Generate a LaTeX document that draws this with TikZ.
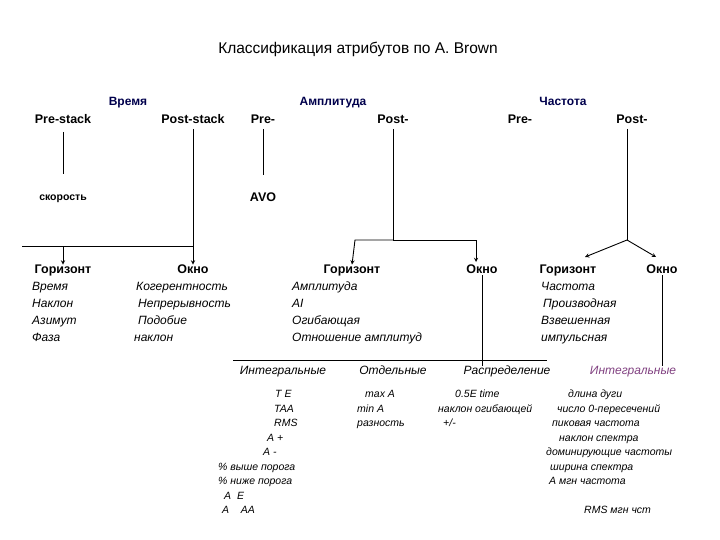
\documentclass[tikz,border=0pt]{standalone}
\usepackage{fontspec}
\setmainfont{Liberation Sans}
\begin{document}
\begin{tikzpicture}[x=1pt,y=-1pt,
 every node/.style={text height=1.6ex, text depth=0.4ex},
 head/.style={font=\fontsize{12}{14}\selectfont\bfseries, text=blue!30!black, inner sep=0},
 top/.style={font=\fontsize{12.5}{14}\selectfont\bfseries, inner sep=0},
 it/.style={font=\fontsize{12}{14}\selectfont\itshape, inner sep=0, anchor=west},
 sm/.style={font=\fontsize{10.5}{12}\selectfont\itshape, inner sep=0, anchor=west},
 cat/.style={font=\fontsize{12}{14}\selectfont\itshape, inner sep=0},
 ln/.style={line width=0.9pt},
 arr/.style={line width=0.9pt,-stealth}]
\useasboundingbox (0,0) rectangle (720,540);
\node[font=\fontsize{15.5}{18}\selectfont] (title) at (358,50) {Классификация атрибутов по A. Brown};
\node[head] (t1) at (128,102) {Время};
\node[head] (t2) at (333,102) {Амплитуда};
\node[head] (t3) at (563,102) {Частота};
\node[top] (p1) at (63,120) {Pre-stack};
\node[top] (p2) at (193,120) {Post-stack};
\node[top] (p3) at (263,120) {Pre-};
\node[top] (p4) at (393,120) {Post-};
\node[top] (p5) at (520,120) {Pre-};
\node[top] (p6) at (632,120) {Post-};
\node[font=\fontsize{10.5}{12}\selectfont\bfseries,inner sep=0] (sk) at (63,197) {скорость};
\node[top] (avo) at (263,198) {AVO};
\coordinate (e1) at (63,174);
\coordinate (e3) at (263,175);
\draw[ln] (63,132) -- (e1);
\draw[ln] (263,129) -- (e3);
\node[top] (g1) at (63,270) {Горизонт};
\node[top] (o1) at (193,270) {Окно};
\node[top] (g2) at (352,270) {Горизонт};
\node[top] (o2) at (482,270) {Окно};
\node[top] (g3) at (568,270) {Горизонт};
\node[top] (o3) at (662,270) {Окно};
\coordinate (h1) at (193,246); \coordinate (h1l) at (22,246);
\draw[ln] (193,129) -- (h1) -- (h1l);
\draw[arr] (63,246) -- (g1.north);
\draw[arr] (h1) -- (o1.north);
\coordinate (h2) at (393,240);
\draw[ln] (393,129) -- (h2);
\draw[arr] (h2) -- (355,240) -- (g2.north);
\draw[arr] (h2) -- (476,240) -- (476,262);
\coordinate (h3) at (627,240);
\draw[ln] (627,129) -- (h3);
\draw[arr] (h3) -- (585,257);
\draw[arr] (h3) -- (656,257);
\foreach \t [count=\i] in {Время,Наклон,Азимут,Фаза} \node[it] at (32,270+17*\i) {\t};
\node[it] at (136,287) {Когерентность};
\node[it] at (138,304) {Непрерывность};
\node[it] at (138,321) {Подобие};
\node[it] at (134,338) {наклон};
\foreach \t [count=\i] in {Амплитуда,AI,Огибающая,Отношение амплитуд} \node[it] at (292,270+17*\i) {\t};
\node[it] at (541,287) {Частота};
\node[it] at (543,304) {Производная};
\node[it] at (541,321) {Взвешенная};
\node[it] at (541,338) {импульсная};
\node[cat] (c1) at (283,371) {Интегральные};
\node[cat] (c2) at (393,371) {Отдельные};
\node[cat] (c3) at (507,371) {Распределение};
\node[cat,text=violet!50!gray] (c4) at (633,371) {Интегральные};
\coordinate (hl) at (233,360); \coordinate (hr) at (547,360);
\draw[ln] (hl) -- (hr);
\draw[ln] (o2.south) -- (o2.south |- c3.north);
\draw[ln] (o3.south) -- (o3.south |- c4.north);
\node[sm] at (275,394) {T E};
\node[sm] at (274,409) {TAA};
\node[sm] at (274,423) {RMS};
\node[sm] at (267,438) {A +};
\node[sm] at (263,452) {A -};
\node[sm] at (218,467) {\% выше порога};
\node[sm] at (218,481) {\% ниже порога};
\node[sm] at (224,496) {A\ \ E};
\node[sm] at (222,510) {A\ \ \ \ AA};
\node[sm] at (365,394) {max A};
\node[sm] at (357,409) {min A};
\node[sm] at (357,423) {разность};
\node[sm] at (455,394) {0.5E time};
\node[sm] at (438,409) {наклон огибающей};
\node[sm] at (443,423) {+/-};
\node[sm] at (568,394) {длина дуги};
\node[sm] at (557,409) {число 0-пересечений};
\node[sm] at (552,423) {пиковая частота};
\node[sm] at (559,438) {наклон спектра};
\node[sm] at (546,452) {доминирующие частоты};
\node[sm] at (550,467) {ширина спектра};
\node[sm] at (549,481) {А мгн частота};
\node[sm] at (584,510) {RMS мгн чст};
\end{tikzpicture}
\end{document}
